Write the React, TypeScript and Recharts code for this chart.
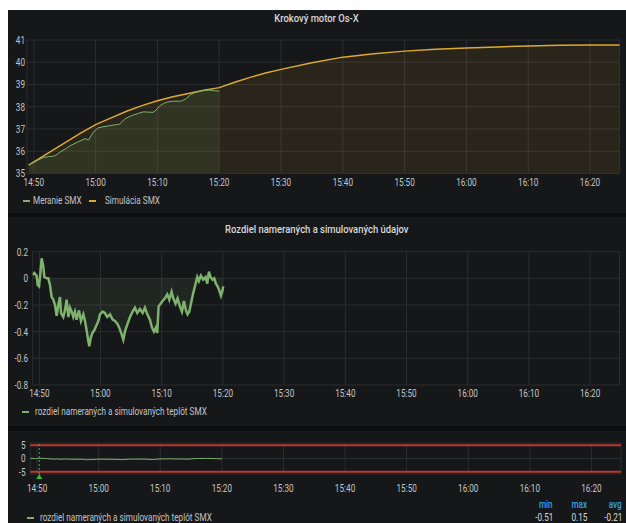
import React from "react";
import { ComposedChart, Area, XAxis, YAxis, CartesianGrid, ReferenceLine } from "recharts";

// ---------- data (time = minutes after 14:50) ----------
const timeTicks = [0, 10, 20, 30, 40, 50, 60, 70, 80, 90];
const timeTickLabels = ["14:50", "15:00", "15:10", "15:20", "15:30", "15:40", "15:50", "16:00", "16:10", "16:20"];
const timeDomain = [-1.1, 94.8];

const simMinutes = [-0.85, 0, 2.5, 5, 7.5, 10, 12.5, 15, 17.5, 20, 22.5, 25, 27.5, 30, 32.5, 35, 37.5, 40, 45, 50, 55, 60, 65, 70, 75, 80, 85, 90, 94.8];
const simValues = [35.38, 35.52, 35.95, 36.38, 36.8, 37.2, 37.5, 37.8, 38.05, 38.27, 38.45, 38.6, 38.74, 38.86, 39.1, 39.32, 39.52, 39.68, 39.98, 40.23, 40.38, 40.5, 40.58, 40.64, 40.69, 40.73, 40.76, 40.77, 40.78];

const measMinutes = [-0.8, 0, 0.8, 1.6, 2.4, 3.2, 3.75, 4.3, 5.1, 5.9, 7.0, 7.8, 8.3, 8.85, 9.6, 10.4, 11.2, 12.3, 13.4, 13.9, 14.7, 15.8, 16.9, 17.7, 19.3, 19.8, 20.4, 21.4, 22.5, 23.8, 24.6, 25.4, 26.2, 27.3, 28.4, 29.2, 30.0];
const measValues = [35.39, 35.5, 35.62, 35.72, 35.76, 35.78, 35.85, 35.98, 36.1, 36.25, 36.4, 36.5, 36.57, 36.5, 36.85, 37.05, 37.1, 37.15, 37.2, 37.22, 37.45, 37.6, 37.7, 37.77, 37.75, 37.85, 38.05, 38.2, 38.25, 38.25, 38.35, 38.55, 38.65, 38.72, 38.75, 38.72, 38.7];

const diffMinutes = [-1.1, -0.82, -0.44, -0.27, -0.05, 0.11, 0.38, 0.65, 0.82, 1.2, 1.47, 1.74, 2.01, 2.29, 2.56, 2.83, 3.1, 3.38, 3.54, 3.92, 4.19, 4.46, 4.74, 5.01, 5.28, 5.55, 5.82, 6.1, 6.48, 6.8, 7.19, 7.46, 7.73, 8.0, 8.17, 8.38, 8.66, 8.98, 9.36, 9.64, 9.91, 10.34, 10.72, 11.1, 11.54, 11.98, 12.36, 12.74, 13.06, 13.45, 13.72, 14.04, 14.43, 14.81, 15.24, 15.62, 16.0, 16.44, 16.88, 17.26, 17.64, 18.07, 18.4, 18.73, 19.05, 19.27, 19.49, 19.82, 20.14, 20.52, 20.9, 21.23, 21.61, 21.88, 22.26, 22.59, 22.97, 23.3, 23.63, 23.95, 24.22, 24.5, 24.77, 25.15, 25.53, 25.8, 26.07, 26.4, 26.78, 27.16, 27.44, 27.71, 27.98, 28.31, 28.58, 28.85, 29.12, 29.4, 29.67, 29.94, 30.05];
const diffValues = [0.025, 0.04, 0.02, -0.05, -0.06, 0.01, 0.15, 0.09, 0.01, 0.0, 0.0, -0.05, -0.14, -0.16, -0.2, -0.28, -0.2, -0.14, -0.26, -0.29, -0.24, -0.16, -0.29, -0.22, -0.25, -0.29, -0.25, -0.31, -0.24, -0.32, -0.27, -0.32, -0.39, -0.47, -0.51, -0.45, -0.41, -0.39, -0.35, -0.32, -0.27, -0.25, -0.26, -0.29, -0.27, -0.31, -0.32, -0.34, -0.37, -0.42, -0.46, -0.39, -0.34, -0.29, -0.25, -0.22, -0.26, -0.23, -0.26, -0.22, -0.27, -0.31, -0.37, -0.4, -0.37, -0.41, -0.21, -0.19, -0.17, -0.15, -0.12, -0.16, -0.1, -0.15, -0.19, -0.15, -0.21, -0.25, -0.17, -0.24, -0.27, -0.25, -0.19, -0.11, -0.04, 0.01, -0.02, 0.02, -0.01, 0.01, -0.04, 0.05, 0.01, -0.01, 0.0, -0.04, -0.06, -0.09, -0.13, -0.09, -0.06];

const tempTicks = [35, 36, 37, 38, 39, 40, 41];
const diffTicks = [-0.8, -0.6, -0.4, -0.2, 0, 0.2];
const limitTicks = [-5, 0, 5];
const limitDomain = [-5.9, 5.9];
const thresholds = [5, -5];
const annotationMinute = 0.35;
const statLabels = ["min", "max", "avg"];
const statValues = ["-0.51", "0.15", "-0.21"];

const titles = ["Krokový motor Os-X", "Rozdiel nameraných a simulovaných údajov"];
const legendMeas = "Meranie SMX";
const legendSim = "Simulácia SMX";
const legendDiff = "rozdiel nameraných a simulovaných teplôt SMX";

// ---------- tables ----------
const allTempMinutes = Array.from(new Set([...simMinutes, ...measMinutes])).sort((a, b) => a - b);
const tempRows = allTempMinutes.map((t) => {
  const si = simMinutes.indexOf(t);
  const mi = measMinutes.indexOf(t);
  return { t, sim: si >= 0 ? simValues[si] : null, meas: mi >= 0 ? measValues[mi] : null };
});
const diffRows = diffMinutes.map((t, i) => ({ t, d: diffValues[i] }));

// ---------- style ----------
const FONT = "Roboto, 'Noto Sans', sans-serif";
const SX = 0.78;
const PANEL = "#161719";
const GAP = "#0c0d0f";
const GRID = "#2c2d31";
const TICK = "#c3c4c6";
const TITLE = "#d8d9da";
const GREEN = "#7eb26d";
const YELLOW = "#dcaa33";
const RED = "#bb3a2c";
const STAT_RIGHT = [545, 579, 614];

const XTick = (props: any) => {
  const { x, payload, ty } = props;
  const i = timeTicks.indexOf(payload.value);
  return (
    <g transform={`translate(${x},${ty}) scale(${SX},1)`}>
      <text x={0} y={0} textAnchor="middle" dominantBaseline="central" fill={TICK} fontSize={10.5} fontFamily={FONT}>
        {i >= 0 ? timeTickLabels[i] : ""}
      </text>
    </g>
  );
};

const YTick = (props: any) => {
  const { y, payload, tx } = props;
  return (
    <g transform={`translate(${tx},${y}) scale(${SX},1)`}>
      <text x={0} y={0} textAnchor="end" dominantBaseline="central" fill={TICK} fontSize={10.5} fontFamily={FONT}>
        {String(payload.value)}
      </text>
    </g>
  );
};

const SText = ({ children, color, size = 10.5, weight = 400, origin = "left center", sx = SX }: any) => (
  <span
    style={{
      display: "block",
      transform: `scaleX(${sx})`,
      transformOrigin: origin,
      color,
      fontSize: size,
      fontWeight: weight,
      fontFamily: FONT,
      whiteSpace: "nowrap",
      lineHeight: "12px",
    }}
  >
    {children}
  </span>
);

const Box = ({ left, top, width, height = 12, justify = "flex-start", children }: any) => (
  <div
    style={{
      position: "absolute",
      left,
      top,
      width,
      height,
      display: "flex",
      alignItems: "center",
      justifyContent: justify,
      lineHeight: 0,
    }}
  >
    {children}
  </div>
);

const Title = ({ text, cy }: any) => (
  <Box left={0} top={cy - 6} width={618} justify="center">
    <SText color={TITLE} size={11.5} weight={500} origin="center center" sx={0.82}>{text}</SText>
  </Box>
);

const LegendEntry = ({ color, text, dashLeft, textLeft, cy }: any) => (
  <>
    <div style={{ position: "absolute", left: dashLeft, top: cy - 0.75, width: 7, height: 1.5, background: color }} />
    <Box left={textLeft} top={cy - 6} width={300}>
      <SText color={TICK}>{text}</SText>
    </Box>
  </>
);

const AnnotationMark = (props: any) => {
  const vb = props.viewBox || {};
  const x = vb.x;
  const yb = (vb.y || 0) + (vb.height || 0);
  return <polygon points={`${x - 3},${yb + 5} ${x + 3},${yb + 5} ${x},${yb}`} fill="#2fbf3a" />;
};

export default function App() {
  return (
    <div style={{ position: "absolute", left: 8, top: 10, width: 618, height: 513, background: GAP, overflow: "hidden" }}>
      {/* Panel 1 */}
      <div style={{ position: "absolute", left: 0, top: 0, width: 618, height: 203, background: PANEL }}>
        <Title text={titles[0]} cy={7.5} />
        <div style={{ position: "absolute", left: 0, top: 0 }}>
          <ComposedChart width={618} height={203} data={tempRows} margin={{ top: 30, right: 6.3, left: 0, bottom: 29.5 }}>
            <CartesianGrid stroke={GRID} strokeWidth={1} />
            <XAxis
              dataKey="t"
              type="number"
              domain={timeDomain}
              ticks={timeTicks}
              allowDataOverflow
              axisLine={false}
              tickLine={false}
              height={10}
              interval={0}
              tick={(p: any) => <XTick {...p} ty={172} />}
            />
            <YAxis
              type="number"
              domain={[35, 41]}
              ticks={tempTicks}
              allowDataOverflow
              axisLine={false}
              tickLine={false}
              width={19}
              interval={0}
              tick={(p: any) => <YTick {...p} tx={17} />}
            />
            <Area
              dataKey="sim"
              type="linear"
              stroke={YELLOW}
              strokeWidth={1.5}
              fill={YELLOW}
              fillOpacity={0.1}
              connectNulls
              dot={false}
              activeDot={false}
              isAnimationActive={false}
            />
            <Area
              dataKey="meas"
              type="linear"
              stroke={GREEN}
              strokeWidth={1}
              fill={GREEN}
              fillOpacity={0.1}
              connectNulls
              dot={false}
              activeDot={false}
              isAnimationActive={false}
            />
          </ComposedChart>
        </div>
        <LegendEntry color={GREEN} text={legendMeas} dashLeft={14.5} textLeft={25} cy={191} />
        <LegendEntry color={YELLOW} text={legendSim} dashLeft={81} textLeft={97} cy={191} />
      </div>

      {/* Panel 2 */}
      <div style={{ position: "absolute", left: 0, top: 207, width: 618, height: 209, background: PANEL }}>
        <Title text={titles[1]} cy={12} />
        <div style={{ position: "absolute", left: 0, top: 0 }}>
          <ComposedChart width={618} height={209} data={diffRows} margin={{ top: 34.7, right: 6.5, left: 0, bottom: 31 }}>
            <CartesianGrid stroke={GRID} strokeWidth={1} />
            <XAxis
              dataKey="t"
              type="number"
              domain={timeDomain}
              ticks={timeTicks}
              allowDataOverflow
              axisLine={false}
              tickLine={false}
              height={10}
              interval={0}
              tick={(p: any) => <XTick {...p} ty={176} />}
            />
            <YAxis
              type="number"
              domain={[-0.8, 0.2]}
              ticks={diffTicks}
              allowDataOverflow
              axisLine={false}
              tickLine={false}
              width={24.6}
              interval={0}
              tick={(p: any) => <YTick {...p} tx={20} />}
            />
            <Area
              dataKey="d"
              type="linear"
              stroke={GREEN}
              strokeWidth={2.5}
              fill={GREEN}
              fillOpacity={0.1}
              dot={false}
              activeDot={false}
              isAnimationActive={false}
            />
          </ComposedChart>
        </div>
        <LegendEntry color={GREEN} text={legendDiff} dashLeft={14} textLeft={27} cy={195} />
      </div>

      {/* Panel 3 */}
      <div style={{ position: "absolute", left: 0, top: 421, width: 618, height: 110, background: PANEL }}>
        <div style={{ position: "absolute", left: 0, top: 0 }}>
          <ComposedChart width={618} height={92} data={diffRows} margin={{ top: 12, right: 5, left: 0, bottom: 39 }}>
            <CartesianGrid stroke={GRID} strokeWidth={1} />
            <XAxis
              dataKey="t"
              type="number"
              domain={timeDomain}
              ticks={timeTicks}
              allowDataOverflow
              axisLine={false}
              tickLine={false}
              height={10}
              interval={0}
              tick={(p: any) => <XTick {...p} ty={57} />}
            />
            <YAxis
              type="number"
              domain={limitDomain}
              ticks={limitTicks}
              allowDataOverflow
              axisLine={false}
              tickLine={false}
              width={22.3}
              interval={0}
              tick={(p: any) => <YTick {...p} tx={17.5} />}
            />
            {thresholds.map((v) => (
              <ReferenceLine key={v} y={v} stroke={RED} strokeWidth={2} ifOverflow="extendDomain" />
            ))}
            <Area
              dataKey="d"
              type="linear"
              stroke={GREEN}
              strokeWidth={1}
              fill={GREEN}
              fillOpacity={0.1}
              dot={false}
              activeDot={false}
              isAnimationActive={false}
            />
            <ReferenceLine
              x={annotationMinute}
              stroke="#2fbf3a"
              strokeWidth={1}
              strokeDasharray="2 2"
              label={<AnnotationMark />}
            />
          </ComposedChart>
        </div>
        {statLabels.map((s, i) => (
          <Box key={s} left={STAT_RIGHT[i] - 40} top={68} width={40} justify="flex-end">
            <SText color="#33a2e5" weight={500} origin="right center">{s}</SText>
          </Box>
        ))}
        {statValues.map((s, i) => (
          <Box key={s} left={STAT_RIGHT[i] - 40} top={81} width={40} justify="flex-end">
            <SText color={TITLE} origin="right center">{s}</SText>
          </Box>
        ))}
        <LegendEntry color={GREEN} text={legendDiff} dashLeft={19} textLeft={32} cy={87} />
      </div>
    </div>
  );
}
